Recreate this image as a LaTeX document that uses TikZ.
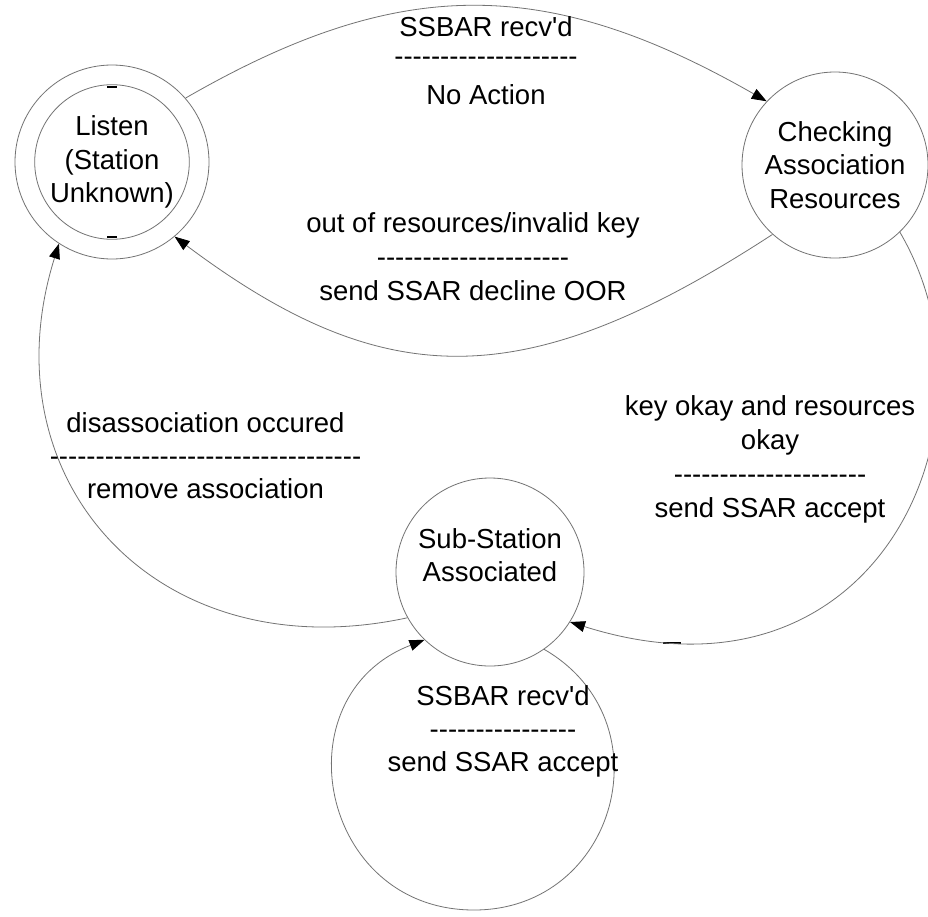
\documentclass[tikz,border=0pt]{standalone}
\usepackage{fontspec}
\setmainfont{Liberation Sans}[Ligatures=TeXOff]
\usetikzlibrary{arrows.meta}
% a centred block of lines whose reference point is the first baseline
\newcommand\lbltext[1]{\begin{tabular}[t]{@{}c@{}}#1\end{tabular}}
\begin{document}
\begin{tikzpicture}[x=1pt, y=-1pt,
  every node/.style={font=\fontsize{27.5}{34}\selectfont, text=black},
  state/.style={circle, draw=black!55, line width=0.8pt, inner sep=0pt, align=center},
  trans/.style={draw=black!55, line width=0.8pt, -{Triangle[length=15pt,width=11pt,color=black]}},
  lbl/.style={anchor=base, inner sep=0pt},
  tight/.style={font=\fontsize{27.5}{33}\selectfont},
  tick/.style={draw=black, line width=1.6pt}]
\fill[white] (0,0) rectangle (928,916);
\useasboundingbox (0,0) rectangle (928,916);

% states
\node[state, minimum size=194pt] (L) at (112,162) {};
\node[state, minimum size=150pt, font=\fontsize{27.5}{33.5}\selectfont] (Lin) at (112,162) {Listen\\(Station\\Unknown)};
\node[state, minimum size=186pt, font=\fontsize{27.5}{33.5}\selectfont] (C) at (835,165) {Checking\\Association\\Resources};
\node[state, minimum size=188pt] (S) at (490,572) {};
\node[lbl, tight] (Stext) at (490,548) {\lbltext{Sub-Station\\Associated}};

% small marks on the outlines
\draw[tick] (107,87) -- (117,87);
\draw[tick] (107,237) -- (117,237);
\draw[tick] (663,643) -- (681,643);

% transitions
\draw[trans] (L.41) .. controls (399,-25) and (546,-25) .. (C.137);
\draw[trans] (C.228) .. controls (526,395) and (386,395) .. (L.-50);
\draw[trans] (C.-46) .. controls (1010,420) and (880,720) .. (S.-32);
\draw[trans] (S.209) .. controls (157,672) and (-15,480) .. (L.237);
\coordinate (loopbot) at (474,910);
\draw[trans] (S.-55) .. controls (668,721) and (617,910) .. (loopbot)
                     .. controls (319,910) and (279,696) .. (S.226);

% transition labels
\node[lbl] (t1) at (486,36.7) {\lbltext{SSBAR recv'd\\[-5pt] --------------------\\[5pt] No Action}};
\node[lbl] (t2) at (473,232) {\lbltext{out of resources/invalid key\\ ---------------------\\ send SSAR decline OOR}};
\node[lbl] (t3) at (770,415) {\lbltext{key okay and resources\\ okay\\ ---------------------\\ send SSAR accept}};
\node[lbl, tight] (t4) at (205.5,432) {\lbltext{disassociation occured\\ ----------------------------------\\ remove association}};
\node[lbl, tight] (t5) at (503,705) {\lbltext{SSBAR recv'd\\ ----------------\\ send SSAR accept}};
\end{tikzpicture}
\end{document}
